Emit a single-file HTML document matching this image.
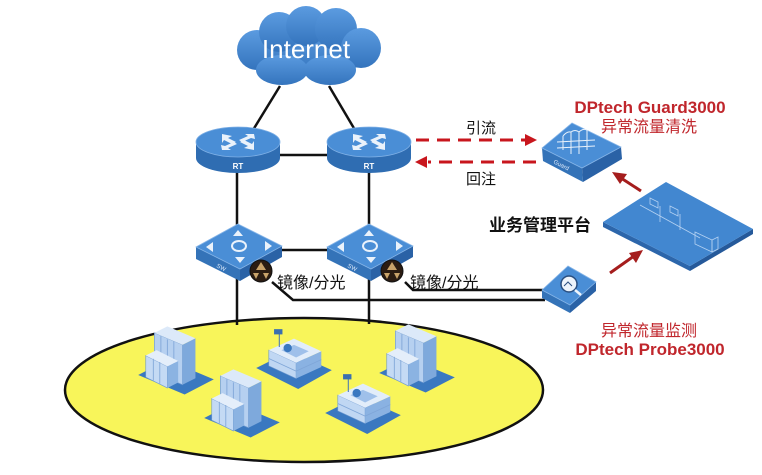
<!DOCTYPE html>
<html><head><meta charset="utf-8"><style>
html,body{margin:0;padding:0;background:#fff;}
svg{display:block;}
text{font-family:"Liberation Sans","Noto Sans CJK SC",sans-serif;}
</style></head><body>
<svg width="762" height="475" viewBox="0 0 762 475" xmlns="http://www.w3.org/2000/svg">
<defs>
<linearGradient id="cg" x1="0" y1="0" x2="0" y2="1"><stop offset="0" stop-color="#5b9be0"/><stop offset="1" stop-color="#3474bd"/></linearGradient>
<g id="tall">
  <polygon points="-35,0 -8,-14 35,4 8,18" fill="#3a78c0"/>
  <polygon points="-20,-2 6,9 6,-28 -20,-39" fill="#b6d0f0" stroke="#6f9ad0" stroke-width="0.6"/>
  <polygon points="6,9 18,3 18,-34 6,-28" fill="#7ea9dc"/>
  <polygon points="-20,-39 6,-28 18,-34 -8,-45" fill="#dce9f9"/>
  <g stroke="#7fa6d8" stroke-width="0.8">
   <line x1="-14" y1="1" x2="-14" y2="-36"/><line x1="-8" y1="3" x2="-8" y2="-33"/><line x1="-2" y1="6" x2="-2" y2="-31"/>
  </g>
  <polygon points="-28,2 -8,12 -8,-8 -28,-18" fill="#c4daf4" stroke="#6f9ad0" stroke-width="0.6"/>
  <polygon points="-8,12 2,7 2,-13 -8,-8" fill="#8bb3e2"/>
  <polygon points="-28,-18 -8,-8 2,-13 -18,-23" fill="#e4eefa"/>
  <g stroke="#7fa6d8" stroke-width="0.8"><line x1="-21" y1="5" x2="-21" y2="-15"/><line x1="-15" y1="8" x2="-15" y2="-12"/></g>
</g>
<g id="low">
  <polygon points="-36,0 -4,-16 36,2 4,20" fill="#3a78c0"/>
  <polygon points="-24,-2 2,10 2,-5 -24,-17" fill="#c0d7f3" stroke="#6f9ad0" stroke-width="0.6"/>
  <polygon points="2,10 26,-1 26,-16 2,-5" fill="#8ab2e2"/>
  <polygon points="-24,-17 2,-5 26,-16 0,-28" fill="#e2edfa"/>
  <polygon points="-12,-17 2,-10 14,-16 0,-22" fill="#9fc0ea"/>
  <g stroke="#7fa6d8" stroke-width="0.8"><line x1="-24" y1="-9" x2="2" y2="3"/><line x1="2" y1="3" x2="26" y2="-8"/></g>
  <circle cx="-6" cy="-19" r="4" fill="#3a78c0"/>
  <line x1="-14" y1="-20" x2="-14" y2="-34" stroke="#4a78b0" stroke-width="1"/>
  <rect x="-19" y="-37" width="8" height="5" fill="#3a6fb0"/>
</g>
</defs>

<!-- ellipse campus -->
<ellipse cx="304" cy="390" rx="239" ry="72" fill="#f8f55a" stroke="#111" stroke-width="2.5"/>

<!-- lines -->
<g stroke="#111" stroke-width="2.5" fill="none">
  <line x1="280" y1="86" x2="253" y2="130"/>
  <line x1="329" y1="86" x2="355" y2="130"/>
  <line x1="280" y1="155" x2="328" y2="155"/>
  <line x1="237" y1="170" x2="237" y2="325"/>
  <line x1="369" y1="170" x2="369" y2="324"/>
  <line x1="282" y1="250" x2="328" y2="250"/>
  <polyline points="272,282 293,300 545,300"/>
  <polyline points="405,282 413,290 545,290"/>
</g>

<!-- cloud -->
<g fill="url(#cg)">
  <ellipse cx="307" cy="52" rx="64" ry="24"/>
  <circle cx="257" cy="50" r="20"/>
  <circle cx="279" cy="32" r="20"/>
  <circle cx="306" cy="26" r="20"/>
  <circle cx="336" cy="29" r="21"/>
  <circle cx="361" cy="48" r="20"/>
  <ellipse cx="330" cy="70" rx="26" ry="15"/>
  <ellipse cx="282" cy="70" rx="26" ry="15"/>
</g>
<text x="306" y="58" font-size="26" fill="#fff" text-anchor="middle">Internet</text>

<!-- routers -->
<g id="rt1">
  <path d="M196,142 L196,158 A42,15 0 0 0 280,158 L280,142 Z" fill="#2f6db2"/>
  <ellipse cx="238" cy="142" rx="42" ry="15" fill="#4a8ed6" stroke="#7fb0e6" stroke-width="0.8"/>
  <g fill="#eaf2fb">
    <polygon points="222,134 232,136 228,138 236,142 232,144 224,140 222,143"/>
    <polygon points="254,150 244,148 248,146 240,142 244,140 252,144 254,141"/>
    <polygon points="254,134 255,139 251,138 242,142 239,140 248,136 245,134"/>
    <polygon points="222,150 221,145 225,146 234,142 237,144 228,148 231,150"/>
  </g>
  <text x="238" y="169" font-size="8" font-weight="bold" fill="#fff" text-anchor="middle">RT</text>
</g>
<use href="#rt1" x="131" y="0"/>

<!-- switches -->
<g id="sw1">
  <polygon points="196,247 240,269 240,281 196,259" fill="#3473b8"/>
  <polygon points="240,269 282,246 282,257 240,281" fill="#2a62a6"/>
  <polygon points="238,224 282,246 240,269 196,247" fill="#4a8ed6" stroke="#86b5e8" stroke-width="0.8"/>
  <g fill="#eaf2fb">
    <polygon points="238,230 243,236 233,236"/>
    <polygon points="240,263 245,257 235,257"/>
    <polygon points="206,247 213,242 213,252"/>
    <polygon points="272,246 265,241 265,251"/>
  </g>
  <ellipse cx="239" cy="246" rx="7" ry="5" fill="none" stroke="#eaf2fb" stroke-width="2"/>
  <text x="216" y="267" font-size="6" fill="#dce9f9" transform="rotate(27 216 267)">SW</text>
</g>
<use href="#sw1" x="131" y="0"/>

<!-- mirror icons -->
<g id="mir">
  <circle cx="261" cy="271" r="11" fill="#2b1c12" stroke="#111" stroke-width="1"/>
  <g fill="#c9a36a">
    <path d="M261,262 L266,270 L256,270 Z"/>
    <path d="M253,273 L259,273 L256,279 Z"/>
    <path d="M263,273 L269,273 L266,279 Z"/>
  </g>
</g>
<use href="#mir" x="131" y="0"/>
<text x="277" y="288" font-size="16" fill="#111">镜像/分光</text>
<text x="410" y="288" font-size="16" fill="#111">镜像/分光</text>

<!-- dashed red arrows -->
<g stroke="#c8161d" stroke-width="3" fill="none" stroke-dasharray="13,8">
  <line x1="416" y1="140" x2="526" y2="140"/>
  <line x1="536" y1="162" x2="428" y2="162"/>
</g>
<polygon points="537,140 525,134 525,146" fill="#c8161d"/>
<polygon points="415,162 427,156 427,168" fill="#c8161d"/>
<text x="481" y="133" font-size="15" fill="#111" text-anchor="middle">引流</text>
<text x="481" y="184" font-size="15" fill="#111" text-anchor="middle">回注</text>

<!-- Guard -->
<polygon points="542,148 582,168 583,182 543,161" fill="#3473b8"/>
<polygon points="582,168 621,147 622,159 583,182" fill="#2a62a6"/>
<polygon points="542,148 572,123 621,147 582,168" fill="#4a8ed6" stroke="#86b5e8" stroke-width="0.8"/>
<g stroke="#eaf2fb" stroke-width="1" fill="none">
  <path d="M563,150 L563,136 M571,154 L571,132 M579,154 L579,132 M587,150 L587,130 M557,142 L595,140 M557,148 L595,146"/>
  <path d="M563,136 Q567,131 571,132 M571,132 Q575,129 579,132 M579,132 Q583,128 587,130"/>
</g>
<text x="553" y="163" font-size="6" fill="#dce9f9" transform="rotate(27 553 163)">Guard</text>
<text x="650" y="113" font-size="17" font-weight="bold" fill="#c0262c" text-anchor="middle">DPtech Guard3000</text>
<text x="649" y="132" font-size="16" fill="#c0262c" text-anchor="middle">异常流量清洗</text>

<!-- platform -->
<polygon points="603,222 690,266 690,271 603,227" fill="#2c66ab"/>
<polygon points="690,266 753,229 753,234 690,271" fill="#25599a"/>
<polygon points="603,222 666,182 753,229 690,266" fill="#4287d0"/>
<g stroke="#b5d2f2" stroke-width="0.8" fill="none">
  <line x1="640" y1="205" x2="700" y2="238"/>
  <polygon points="650,198 658,202 658,208 650,204"/>
  <polygon points="670,206 678,210 678,216 670,212"/>
  <line x1="660" y1="206" x2="660" y2="222"/>
  <line x1="680" y1="214" x2="680" y2="230"/>
  <polygon points="695,232 712,240 712,252 695,244"/>
  <polygon points="712,240 718,237 718,249 712,252"/>
</g>
<text x="540" y="231" font-size="17" font-weight="bold" fill="#111" text-anchor="middle">业务管理平台</text>

<!-- red solid arrows -->
<g stroke="#a51d1d" stroke-width="3">
  <line x1="641" y1="191" x2="621" y2="178"/>
  <line x1="610" y1="273" x2="634" y2="256"/>
</g>
<polygon points="612,172 627,174 620,184" fill="#a51d1d"/>
<polygon points="643,250 636,263 629,253" fill="#a51d1d"/>

<!-- Probe -->
<polygon points="542,290 570,305 570,313 542,298" fill="#3473b8"/>
<polygon points="570,305 596,282 596,291 570,313" fill="#2a62a6"/>
<polygon points="542,290 568,266 596,282 570,305" fill="#4a8ed6" stroke="#86b5e8" stroke-width="0.8"/>
<circle cx="569" cy="284" r="8" fill="#eef4fb" stroke="#2a4f80" stroke-width="1.5"/>
<line x1="575" y1="290" x2="581" y2="295" stroke="#eef4fb" stroke-width="2.5"/>
<path d="M564,286 L568,282 L572,286" stroke="#2a4f80" stroke-width="1" fill="none"/>
<text x="649" y="336" font-size="16" fill="#c0262c" text-anchor="middle">异常流量监测</text>
<text x="650" y="355" font-size="17" font-weight="bold" fill="#c0262c" text-anchor="middle">DPtech Probe3000</text>

<!-- buildings -->
<use href="#tall" transform="translate(176,375) scale(1.08)"/>
<use href="#low" transform="translate(294,368) scale(1.05)"/>
<use href="#tall" transform="translate(417,373) scale(1.08)"/>
<use href="#tall" transform="translate(242,418) scale(1.08)"/>
<use href="#low" transform="translate(363,413) scale(1.05)"/>
</svg>
</body></html>
